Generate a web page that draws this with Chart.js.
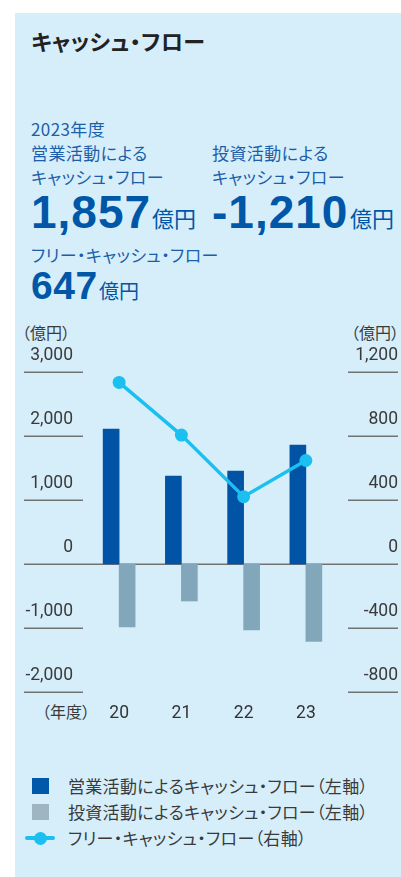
<!DOCTYPE html>
<html lang="ja">
<head>
<meta charset="utf-8">
<script src="https://cdn.jsdelivr.net/npm/chart.js@4"></script>
<style>
  html, body { margin:0; padding:0; background:#ffffff; }
  body { width:401px; height:877px; position:relative; overflow:hidden;
         font-family:"Noto Sans CJK JP", "Noto Sans", sans-serif; }
  #panel { position:absolute; left:15px; top:13px; width:386px; height:864px; background:#d6eefa; }
  .t { position:absolute; white-space:nowrap; font-feature-settings:"palt"; }
  .title { left:31px; top:27px; font-size:22px; line-height:26px; font-weight:bold; color:#222; letter-spacing:0.4px; }
  .blue { color:#1c5ea9; font-size:17px; line-height:20px; letter-spacing:0.4px; }
  .num { font-family:"Liberation Sans", Arial, sans-serif; font-weight:bold; color:#0057a8; letter-spacing:1px; }
  .unit { color:#0057a8; }
  .axt { color:#3a3a3a; font-size:16px; line-height:18px; }
  .leg { color:#3a3a3a; font-size:17px; line-height:20px; letter-spacing:0.3px; }
  #chartWrap { position:absolute; left:0; top:300px; width:401px; height:440px; }
  .sq { position:absolute; width:17px; height:16px; }
  .lline { position:absolute; left:25px; width:30px; height:4px; background:#1bbff0; border-radius:2px; }
  .ldot { position:absolute; left:34px; width:13px; height:13px; border-radius:50%; background:#1bbff0; }
</style>
</head>
<body>
<div id="panel"></div>
<div class="t title">キャッシュ・フロー</div>

<div class="t blue" style="left:31px;top:119px;">2023年度</div>
<div class="t blue" style="left:31px;top:143px;">営業活動による</div>
<div class="t blue" style="left:31px;top:167px;">キャッシュ・フロー</div>
<div class="t num" style="left:31px;top:189px;font-size:46px;line-height:46px;">1,857</div>
<div class="t unit" style="left:152px;top:206px;font-size:22px;line-height:22px;">億円</div>

<div class="t blue" style="left:212px;top:143px;">投資活動による</div>
<div class="t blue" style="left:212px;top:167px;">キャッシュ・フロー</div>
<div class="t num" style="left:212px;top:189px;font-size:46px;line-height:46px;">-1,210</div>
<div class="t unit" style="left:350px;top:206px;font-size:22px;line-height:22px;">億円</div>

<div class="t blue" style="left:31px;top:245px;">フリー・キャッシュ・フロー</div>
<div class="t num" style="left:31px;top:266px;font-size:39px;line-height:39px;letter-spacing:0.5px;">647</div>
<div class="t unit" style="left:99px;top:281px;font-size:20px;line-height:20px;">億円</div>

<div class="t axt" style="left:22px;top:323px;">（億円）</div>
<div class="t axt" style="right:2px;top:323px;">（億円）</div>
<div class="t axt" style="left:42px;top:702px;">（年度）</div>

<div id="chartWrap"><canvas id="c"></canvas></div>

<div class="sq" style="left:32px;top:778px;background:#0058ab;"></div>
<div class="t leg" style="left:68px;top:776px;">営業活動によるキャッシュ・フロー（左軸）</div>
<div class="sq" style="left:32px;top:804px;background:#9fb6c1;"></div>
<div class="t leg" style="left:68px;top:802px;">投資活動によるキャッシュ・フロー（左軸）</div>
<div class="lline" style="top:836px;"></div>
<div class="ldot" style="top:831.5px;"></div>
<div class="t leg" style="left:68px;top:828px;">フリー・キャッシュ・フロー（右軸）</div>

<script>
// ---- data ----
const categories = ['20', '21', '22', '23'];
const operatingCF = [2110, 1375, 1453, 1857];
const investingCF = [-985, -578, -1031, -1210];
const freeCF = [1135, 806, 421, 647];
const leftTickValues = [-2000, -1000, 0, 1000, 2000, 3000];
const leftTickLabels = ['-2,000', '-1,000', '0', '1,000', '2,000', '3,000'];
const rightTickValues = [-800, -400, 0, 400, 800, 1200];
const rightTickLabels = ['-800', '-400', '0', '400', '800', '1,200'];

const tickFont = { family: 'Roboto, "Noto Sans CJK JP", sans-serif', size: 17.5 };

const segGrid = {
  id: 'segGrid',
  beforeDatasetsDraw(chart) {
    const ctx = chart.ctx;
    const yL = chart.scales.y, yR = chart.scales.y1;
    ctx.save();
    ctx.strokeStyle = '#727272';
    ctx.lineWidth = 1.5;
    leftTickValues.forEach(v => {
      const p = Math.round(yL.getPixelForValue(v)) + 0.25;
      ctx.beginPath();
      if (v === 0) { ctx.moveTo(24, p); ctx.lineTo(398, p); }
      else { ctx.moveTo(24, p); ctx.lineTo(83, p); }
      ctx.stroke();
    });
    rightTickValues.forEach(v => {
      if (v === 0) return;
      const p = Math.round(yR.getPixelForValue(v)) + 0.25;
      ctx.beginPath(); ctx.moveTo(348, p); ctx.lineTo(398, p); ctx.stroke();
    });
    ctx.restore();
  }
};

new Chart(document.getElementById('c'), {
  data: {
    labels: categories,
    datasets: [
      { type: 'line', label: 'フリー・キャッシュ・フロー（右軸）', data: freeCF, yAxisID: 'y1',
        borderColor: '#1bbff0', backgroundColor: '#1bbff0', borderWidth: 3.5,
        pointRadius: 6.5, pointHoverRadius: 6.5, pointBorderWidth: 0, pointBackgroundColor: '#1bbff0',
        tension: 0, order: 0 },
      { type: 'bar', label: '営業活動によるキャッシュ・フロー（左軸）', data: operatingCF, yAxisID: 'y',
        backgroundColor: '#0053a5', barThickness: 16, order: 1 },
      { type: 'bar', label: '投資活動によるキャッシュ・フロー（左軸）', data: investingCF, yAxisID: 'y',
        backgroundColor: '#82a7ba', barThickness: 16, order: 2 }
    ]
  },
  options: {
    responsive: true,
    maintainAspectRatio: false,
    animation: false,
    events: [],
    layout: { padding: { left: 0, right: 3, top: 72, bottom: 0 } },
    plugins: { legend: { display: false }, tooltip: { enabled: false } },
    scales: {
      x: {
        grid: { display: false, drawTicks: false }, border: { display: false },
        ticks: { color: '#333', font: tickFont, padding: 11, maxRotation: 0 },
        afterFit: s => { s.height = 48; }
      },
      y: {
        position: 'left', min: -2000, max: 3000,
        grid: { display: false, drawTicks: false }, border: { display: false },
        afterBuildTicks: s => { s.ticks = leftTickValues.map(v => ({ value: v })); },
        afterFit: s => { s.width = 88; },
        ticks: { color: '#3a3a3a', font: tickFont, padding: 15, labelOffset: -16,
                 callback: (v) => leftTickLabels[leftTickValues.indexOf(v)] }
      },
      y1: {
        position: 'right', min: -800, max: 1200,
        grid: { display: false, drawTicks: false }, border: { display: false },
        afterBuildTicks: s => { s.ticks = rightTickValues.map(v => ({ value: v })); },
        afterFit: s => { s.width = 61; },
        ticks: { color: '#3a3a3a', font: tickFont, padding: 0, labelOffset: -16, crossAlign: 'far',
                 callback: (v) => rightTickLabels[rightTickValues.indexOf(v)] }
      }
    }
  },
  plugins: [segGrid]
});
</script>
</body>
</html>
